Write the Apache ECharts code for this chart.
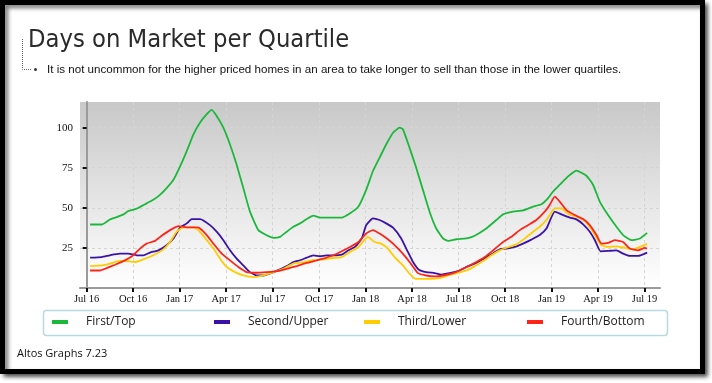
<!DOCTYPE html>
<html><head><meta charset="utf-8">
<script src="https://cdn.jsdelivr.net/npm/echarts@6/dist/echarts.min.js"></script>
<style>html,body{margin:0;padding:0;background:#fff;}#c{width:712px;height:383px;}</style>
</head><body><div id="c"></div>
<script>
// x = months since Jul 2016, y = days on market
const seriesNames = ['First/Top', 'Second/Upper', 'Third/Lower', 'Fourth/Bottom'];
const tickLabels = ['Jul 16','Oct 16','Jan 17','Apr 17','Jul 17','Oct 17','Jan 18','Apr 18','Jul 18','Oct 18','Jan 19','Apr 19','Jul 19'];
const tickMonths = [0,3,6,9,12,15,18,21,24,27,30,33,36];
const yTicks = [25,50,75,100];

const firstTop = [[0.22,39.6],[0.97,39.6],[1.5,42.7],[1.94,44.2],[2.37,45.9],[2.69,48.0],[3.23,49.5],[3.87,52.8],[4.3,55.0],[4.73,58.1],[5.16,62.3],[5.6,67.5],[6.03,75.9],[6.46,85.4],[6.89,95.8],[7.32,103.2],[7.75,108.4],[8.07,111.1],[8.39,107.3],[8.82,100],[9.25,89.5],[9.68,76.9],[10.11,62.3],[10.54,47.6],[11.08,36.1],[11.62,32.9],[12.05,31.3],[12.48,31.9],[12.91,35.1],[13.34,38.2],[13.77,40.3],[14.2,43.0],[14.63,45.1],[15.06,43.9],[15.71,43.9],[16.46,43.9],[17.0,46.6],[17.54,50.8],[18.04,61.2],[18.47,72.8],[18.9,81.2],[19.33,89.5],[19.77,96.8],[20.2,100],[20.41,99],[20.84,87.4],[21.27,74.9],[21.7,61.2],[22.13,47.6],[22.56,37.1],[22.99,30.9],[23.32,29.4],[23.86,30.4],[24.5,30.9],[25.04,32.6],[25.79,37.1],[26.44,42.4],[26.87,45.9],[27.52,47.6],[28.16,48.4],[28.81,50.8],[29.35,52.2],[29.78,56.0],[30.1,60.2],[30.53,64.4],[31.07,69.6],[31.61,73.2],[32.25,70.0],[32.68,64.4],[33.11,53.9],[33.65,45.5],[34.19,38.2],[34.62,33.0],[35.16,29.8],[35.7,30.9],[36.17,34.4]];
const secondUpper = [[0.22,18.9],[0.97,19.3],[1.5,20.4],[2.15,21.4],[2.69,21.4],[3.23,20.4],[3.66,20.4],[4.09,22.1],[4.63,23.5],[5.16,26.7],[5.6,30.9],[6.03,37.6],[6.46,40.3],[6.78,43.0],[7.32,43.0],[7.96,39.2],[8.39,35.1],[8.82,29.8],[9.25,23.5],[9.68,18.3],[10.11,14.1],[10.54,9.9],[10.97,7.8],[11.41,7.8],[12.05,9.9],[12.48,11.6],[12.91,13.7],[13.34,16.2],[13.77,17.3],[14.2,18.9],[14.63,20.4],[15.06,19.8],[15.49,20.4],[15.92,20.4],[16.46,20.8],[16.89,23.5],[17.32,25.6],[17.75,30.9],[18.04,39.2],[18.47,43.4],[18.9,42.4],[19.33,40.3],[19.77,37.6],[20.3,30.9],[20.73,22.5],[21.06,16.2],[21.44,11.4],[21.92,9.9],[22.46,9.3],[22.89,8.4],[23.43,9.3],[23.97,10.5],[24.5,13.1],[25.04,15.2],[25.58,17.9],[26.12,21.0],[26.65,24.1],[27.09,24.6],[27.63,25.6],[28.16,27.7],[28.7,30.2],[29.24,33.0],[29.67,37.1],[30.21,47.6],[30.64,45.9],[31.18,43.9],[31.61,42.8],[32.04,39.7],[32.47,35.1],[32.8,29.8],[33.16,22.9],[33.65,23.1],[34.19,23.5],[34.62,21.4],[35.05,20.0],[35.59,20.0],[36.17,22.1]];
const thirdLower = [[0.22,13.7],[0.97,14.1],[1.5,15.2],[2.04,16.8],[2.58,16.8],[3.12,16.2],[3.66,17.9],[4.3,20.4],[4.95,24.1],[5.38,28.7],[5.81,35.1],[6.24,37.8],[6.89,37.8],[7.21,36.1],[7.75,29.8],[8.18,24.6],[8.61,18.3],[9.04,13.1],[9.58,9.9],[10.11,7.8],[10.76,6.8],[11.41,7.8],[12.05,9.9],[12.7,12.0],[13.34,15.2],[13.99,16.2],[14.63,17.3],[15.28,17.9],[15.92,18.7],[16.46,19.3],[17.0,22.5],[17.54,25.6],[18.15,31.9],[18.58,28.7],[19.0,27.7],[19.44,24.6],[19.87,19.3],[20.41,14.1],[20.84,8.9],[21.23,5.7],[21.7,5.7],[22.24,5.7],[22.78,6.2],[23.32,7.8],[23.97,9.5],[24.5,10.9],[25.04,13.5],[25.58,16.8],[26.12,20.4],[26.65,23.5],[27.19,25.4],[27.72,27.2],[28.26,30.8],[28.81,35.1],[29.24,38.2],[29.67,42.4],[30.21,49.7],[30.64,49.7],[31.07,46.2],[31.61,44.5],[32.15,41.7],[32.68,35.1],[33.16,27.1],[33.65,25.6],[34.19,26.0],[34.73,25.0],[35.27,24.1],[35.7,25.6],[36.17,27.5]];
const fourthBottom = [[0.22,10.9],[0.86,10.9],[1.29,12.4],[1.83,14.5],[2.47,17.2],[3.01,20.4],[3.44,24.6],[3.87,27.7],[4.41,29.4],[4.84,32.6],[5.38,36.1],[5.92,38.6],[6.46,37.8],[7.1,37.8],[7.32,37.1],[7.75,33.0],[8.18,27.7],[8.72,21.4],[9.25,17.2],[9.79,13.1],[10.33,9.9],[10.97,9.5],[11.62,9.9],[12.27,10.5],[12.91,12.0],[13.56,13.7],[14.2,15.6],[14.85,17.2],[15.39,18.7],[15.92,20.4],[16.46,22.9],[17.0,25.6],[17.54,28.7],[18.04,34.0],[18.47,36.1],[18.9,34.0],[19.33,31.2],[19.77,27.7],[20.3,22.5],[20.84,16.2],[21.38,9.3],[21.92,7.8],[22.46,7.2],[22.99,7.8],[23.53,8.9],[24.07,10.9],[24.61,13.5],[25.15,16.2],[25.69,19.3],[26.23,23.5],[26.87,28.7],[27.41,31.9],[27.95,36.1],[28.48,39.2],[29.02,42.4],[29.56,47.6],[29.88,51.8],[30.21,57.0],[30.53,53.9],[30.96,48.6],[31.5,45.5],[32.04,43.0],[32.47,39.2],[32.9,33.0],[33.22,27.7],[33.65,28.1],[34.08,29.8],[34.62,28.7],[35.05,24.6],[35.59,23.5],[36.02,25.0],[36.17,24.6]];

const colors = ['#1cb83c', '#3a12a8', '#ffcc00', '#ff2418'];
const allData = [firstTop, secondUpper, thirdLower, fourthBottom];

const chart = echarts.init(document.getElementById('c'), null, {renderer: 'canvas'});
const legendLefts = [52, 214, 364, 527];
const option = {
  animation: false,
  backgroundColor: '#fff',
  title: [{
    text: 'Days on Market per Quartile',
    left: 28, top: 28, padding: 0,
    textStyle: {fontFamily: '"DejaVu Sans Condensed", "Noto Sans"', fontSize: 25.3, fontWeight: 'normal', color: '#2a2a2a'}
  }, {
    text: 'It is not uncommon for the higher priced homes in an area to take longer to sell than those in the lower quartiles.',
    left: 47, top: 64, padding: 0,
    textStyle: {fontFamily: 'Liberation Sans', fontSize: 11.6, fontWeight: 'normal', color: '#111'}
  }, {
    text: 'Altos Graphs 7.23',
    left: 17, top: 348, padding: 0,
    textStyle: {fontFamily: 'Open Sans', fontSize: 11, fontWeight: 'normal', color: '#111'}
  }],
  graphic: [
    {type: 'rect', z: -10, shape: {x: 2.5, y: 2.5, width: 700, height: 369},
     style: {fill: '#fff', stroke: '#000', lineWidth: 5, shadowBlur: 4, shadowOffsetX: 3, shadowOffsetY: 3, shadowColor: 'rgba(0,0,0,0.55)'}},
    {type: 'polyline', shape: {points: [[22.5, 39], [22.5, 69.5], [32, 69.5]]},
     style: {stroke: '#666', lineWidth: 1, lineDash: [1, 1], fill: null}},
    {type: 'circle', shape: {cx: 35.5, cy: 69.5, r: 1.5}, style: {fill: '#333'}},
    {type: 'rect', shape: {x: 43.5, y: 310.5, width: 624, height: 25, r: 3},
     style: {fill: '#fff', stroke: '#b9d9df', lineWidth: 1.5}}
  ],
  legend: seriesNames.map((n, i) => ({
    data: [n], left: legendLefts[i], top: 316, padding: 0,
    icon: 'rect', itemWidth: 16, itemHeight: 4, itemGap: 0,
    textStyle: {fontFamily: 'Open Sans', fontSize: 12, color: '#222', padding: [0, 0, 0, 13]},
    selectedMode: false
  })),
  grid: {left: 80, right: 52, top: 102, bottom: 95, show: true, borderWidth: 0,
    backgroundColor: new echarts.graphic.LinearGradient(0, 0, 0, 1, [
      {offset: 0, color: '#c8c8c8'}, {offset: 1, color: '#ffffff'}])},
  xAxis: {
    type: 'value', min: -0.43, max: 37.0,
    axisLine: {show: true, onZero: false, lineStyle: {color: '#9a9a9a', width: 2}},
    axisTick: {show: true, customValues: tickMonths, length: 4, lineStyle: {color: '#111', width: 2}},
    axisLabel: {customValues: tickMonths, color: '#111', fontFamily: 'Liberation Serif', fontSize: 10.5, margin: 6,
      formatter: v => tickLabels[Math.round(v / 3)]},
    splitLine: {show: true, lineStyle: {color: '#d4d4d4', type: [3, 3], width: 1}}
  },
  yAxis: {
    type: 'value', min: 0, max: 116, interval: 25,
    axisLine: {show: true, lineStyle: {color: '#9a9a9a', width: 2}},
    axisTick: {show: true, customValues: yTicks, length: 4, lineStyle: {color: '#111', width: 2}},
    axisLabel: {customValues: yTicks, color: '#111', fontFamily: 'Liberation Serif', fontSize: 11, margin: 7},
    splitLine: {show: true, lineStyle: {color: '#d4d4d4', type: [3, 3], width: 1}}
  },
  series: seriesNames.map((n, i) => ({
    name: n, type: 'line', data: allData[i], showSymbol: false, symbol: 'none',
    smooth: 0.15, lineStyle: {color: colors[i], width: 1.8}, itemStyle: {color: colors[i]}
  }))
};
chart.setOption(option);
</script></body></html>
